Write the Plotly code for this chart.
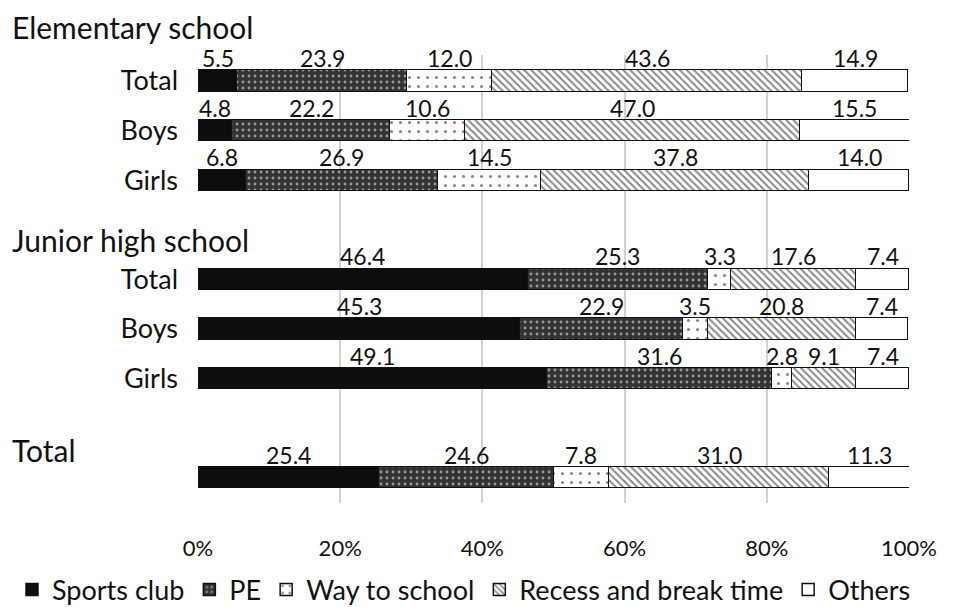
import plotly.graph_objects as go

# Share of physical activity by setting (%), per school level and sex
groups = ["Elementary school", "Junior high school", "Total"]
row_labels = ["Total", "Boys", "Girls", "Total", "Boys", "Girls", ""]
row_group = [0, 0, 0, 1, 1, 1, 2]

sports_club = [5.5, 4.8, 6.8, 46.4, 45.3, 49.1, 25.4]
pe = [23.9, 22.2, 26.9, 25.3, 22.9, 31.6, 24.6]
way_to_school = [12.0, 10.6, 14.5, 3.3, 3.5, 2.8, 7.8]
recess = [43.6, 47.0, 37.8, 17.6, 20.8, 9.1, 31.0]
others = [14.9, 15.5, 14.0, 7.4, 7.4, 7.4, 11.3]

series_names = ["Sports club", "PE", "Way to school", "Recess and break time", "Others"]
series_values = [sports_club, pe, way_to_school, recess, others]

x_ticks = [0, 20, 40, 60, 80, 100]
x_tick_labels = ["0%", "20%", "40%", "60%", "80%", "100%"]

FONT = "Lato"
INK = "#111111"

# vertical slot for each row: one empty slot between school levels
y_pos = []
slot = 0
prev = row_group[0]
for g in row_group:
    if g != prev:
        slot += 1
        prev = g
    y_pos.append(slot)
    slot += 1

styles = [
    dict(color="#0d0d0d"),
    dict(color="#333333", pattern=dict(shape=".", fgcolor="white", bgcolor="#333333",
                                       size=6, solidity=0.18)),
    dict(color="white", pattern=dict(shape=".", fgcolor=INK, bgcolor="white",
                                     size=9, solidity=0.1)),
    dict(color="white", pattern=dict(shape="\\", fgcolor=INK, bgcolor="white",
                                     size=5, solidity=0.4)),
    dict(color="white"),
]

fig = go.Figure()
for name, vals, st in zip(series_names, series_values, styles):
    marker = dict(st)
    marker["line"] = dict(color=INK, width=1.5)
    fig.add_trace(go.Bar(
        x=vals, y=y_pos, orientation="h", name=name, width=0.43,
        marker=marker, hoverinfo="x+name",
    ))

# value labels above each segment
annotations = []
for r, y in enumerate(y_pos):
    left = 0.0
    for vals in series_values:
        v = vals[r]
        annotations.append(dict(
            x=left + v / 2, y=y, xref="x", yref="y", text=f"{v:.1f}",
            showarrow=False, yshift=23, font=dict(family=FONT, size=23, color=INK),
        ))
        left += v

# school-level headers, placed in paper coordinates left of the plot area
header_y = [1.062, 0.587, 0.118]
for text, hy in zip(groups, header_y):
    annotations.append(dict(
        x=(10 - 198) / 711, xref="paper", xanchor="left",
        y=hy, yref="paper", yanchor="middle", text=text,
        showarrow=False, font=dict(family=FONT, size=30, color=INK),
    ))

fig.update_layout(
    barmode="stack",
    width=956, height=607,
    margin=dict(l=198, r=47, t=55, b=104, autoexpand=False),
    paper_bgcolor="white", plot_bgcolor="white",
    font=dict(family=FONT, size=22, color=INK),
    annotations=annotations,
    showlegend=True,
    legend=dict(
        orientation="h", xref="paper", yref="paper",
        x=(12 - 198) / 711, xanchor="left", y=-0.194, yanchor="middle",
        font=dict(family=FONT, size=27, color=INK),
        itemwidth=30, traceorder="normal", tracegroupgap=0,
    ),
    bargap=0,
)
fig.update_xaxes(
    range=[0, 100], tickvals=x_ticks, ticktext=x_tick_labels,
    showgrid=True, gridcolor="#d2d2d2", gridwidth=2,
    zeroline=False, showline=False, ticks="",
    ticklabelstandoff=30, tickfont=dict(family=FONT, size=22),
    fixedrange=True,
)
fig.update_yaxes(
    range=[8.508, -0.524], tickvals=y_pos, ticktext=row_labels,
    showgrid=False, zeroline=False, showline=False, ticks="",
    ticklabelstandoff=19, tickfont=dict(family=FONT, size=27),
    fixedrange=True,
)

fig.write_html("out.html")
